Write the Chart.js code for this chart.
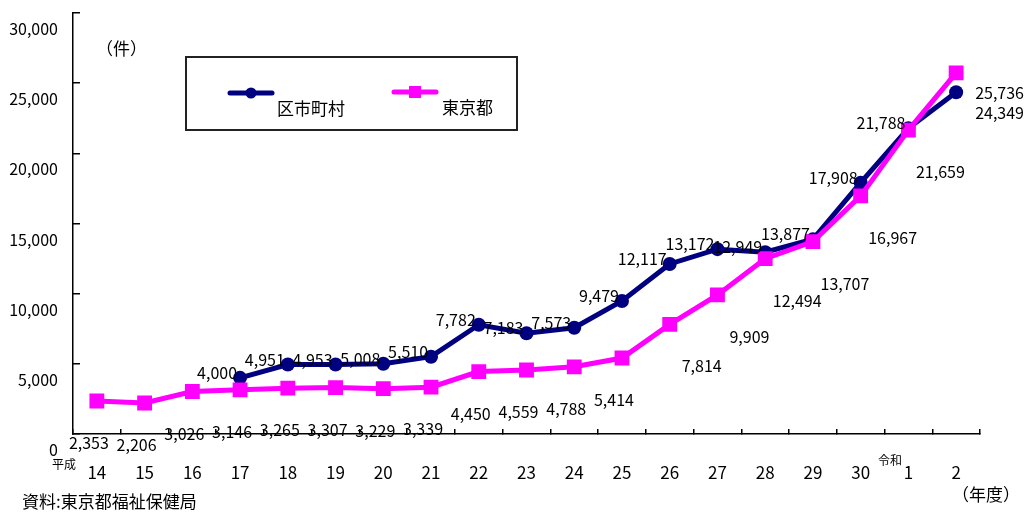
<!DOCTYPE html>
<html lang="ja">
<head>
<meta charset="utf-8">
<script src="https://cdn.jsdelivr.net/npm/chart.js@4.4.1/dist/chart.umd.min.js"></script>
<style>
  html, body { margin: 0; padding: 0; background: #fff; }
</style>
</head>
<body>
<canvas id="c" width="1027" height="513"></canvas>
<script>
// 年度（平成14〜30、令和1〜2）
const years = ['14', '15', '16', '17', '18', '19', '20', '21', '22', '23', '24', '25', '26', '27', '28', '29', '30', '1', '2'];
// 区市町村（平成17年度から）
const kushichoson = [null, null, null, 4000, 4951, 4953, 5008, 5510, 7782, 7183, 7573, 9479, 12117, 13172, 12949, 13877, 17908, 21788, 24349];
// 東京都
const tokyo = [2353, 2206, 3026, 3146, 3265, 3307, 3229, 3339, 4450, 4559, 4788, 5414, 7814, 9909, 12494, 13707, 16967, 21659, 25736];
const yTicks = [0, 5000, 10000, 15000, 20000, 25000, 30000];

const NAVY = '#000080';
const MAGENTA = '#ff00ff';
const FONT = '"Noto Sans CJK JP", "Noto Sans", sans-serif';
const fmt = v => v.toLocaleString('en-US');

// data labels: 区市町村 to the upper left, 東京都 well below the line
const valueLabels = {
  id: 'valueLabels',
  afterDatasetsDraw(chart) {
    const ctx = chart.ctx;
    const last = years.length - 1;
    ctx.save();
    ctx.font = '16px ' + FONT;
    ctx.fillStyle = '#000';
    ctx.textBaseline = 'middle';
    chart.getDatasetMeta(0).data.forEach((pt, i) => {
      const v = kushichoson[i];
      if (v == null) return;
      if (i === last) {
        ctx.textAlign = 'left';
        ctx.fillText(fmt(v), pt.x + 19, pt.y + 21);
      } else {
        ctx.textAlign = 'right';
        ctx.fillText(fmt(v), pt.x - 3, pt.y - 5);
      }
    });
    chart.getDatasetMeta(1).data.forEach((pt, i) => {
      const v = tokyo[i];
      if (i === last) {
        ctx.textAlign = 'left';
        ctx.fillText(fmt(v), pt.x + 19, pt.y + 20);
      } else {
        ctx.textAlign = 'center';
        ctx.fillText(fmt(v), pt.x + (i < 12 ? -8 : 32), pt.y + 42);
      }
    });
    ctx.restore();
  }
};

// boxed legend inside the plot + loose notes
const notes = {
  id: 'notes',
  afterDraw(chart) {
    const ctx = chart.ctx;
    ctx.save();
    ctx.strokeStyle = '#222';
    ctx.lineWidth = 2;
    ctx.strokeRect(186, 57, 331, 73);

    // legend entries
    ctx.lineCap = 'round';
    ctx.lineWidth = 5;
    ctx.strokeStyle = NAVY;
    ctx.beginPath(); ctx.moveTo(230, 93); ctx.lineTo(272, 93); ctx.stroke();
    ctx.fillStyle = NAVY;
    ctx.beginPath(); ctx.arc(251, 93, 5.5, 0, Math.PI * 2); ctx.fill();
    ctx.strokeStyle = MAGENTA;
    ctx.beginPath(); ctx.moveTo(394, 92); ctx.lineTo(436, 92); ctx.stroke();
    ctx.fillStyle = MAGENTA;
    ctx.fillRect(409, 86, 12, 12);

    ctx.fillStyle = '#000';
    ctx.textBaseline = 'middle';
    ctx.textAlign = 'left';
    ctx.font = '17px ' + FONT;
    ctx.fillText(chart.data.datasets[0].label, 277, 109);
    ctx.fillText(chart.data.datasets[1].label, 442, 108);

    ctx.fillText('（件）', 96, 49);
    ctx.fillText('資料:東京都福祉保健局', 22, 502);
    ctx.textAlign = 'right';
    ctx.fillText('（年度）', 1020, 495);

    ctx.textAlign = 'left';
    ctx.font = '12px ' + FONT;
    ctx.fillText('平成', 52, 464);
    ctx.fillText('令和', 878, 460);
    ctx.restore();
  }
};

new Chart(document.getElementById('c'), {
  type: 'line',
  data: {
    labels: years,
    datasets: [{
      label: '区市町村',
      data: kushichoson,
      borderColor: NAVY,
      backgroundColor: NAVY,
      borderWidth: 5,
      pointStyle: 'circle',
      pointRadius: 7,
      pointBorderWidth: 0,
      tension: 0,
      order: 1
    }, {
      label: '東京都',
      data: tokyo,
      borderColor: MAGENTA,
      backgroundColor: MAGENTA,
      borderWidth: 5,
      pointStyle: 'rect',
      pointRadius: 10.5,
      pointBorderWidth: 0,
      tension: 0,
      order: 0
    }]
  },
  options: {
    responsive: false,
    animation: false,
    layout: { padding: { top: 13, right: 47, left: 0, bottom: 0 } },
    plugins: {
      legend: { display: false },
      tooltip: { enabled: false }
    },
    scales: {
      x: {
        offset: true,
        grid: { offset: true, drawOnChartArea: false, tickLength: -5, color: '#000', lineWidth: 1.5 },
        border: { color: '#000', width: 1.5 },
        ticks: { color: '#000', font: { family: FONT, size: 17 }, padding: 33, maxRotation: 0, autoSkip: false },
        afterFit: s => { s.height = 79; s.paddingLeft = 0; s.paddingRight = 0; }
      },
      y: {
        min: 0,
        max: 30000,
        afterBuildTicks: s => { s.ticks = yTicks.map(v => ({ value: v })); },
        grid: { drawOnChartArea: false, tickLength: -7, color: '#000', lineWidth: 1.5 },
        border: { color: '#000', width: 1.5 },
        ticks: { color: '#000', font: { family: FONT, size: 16 }, padding: 22, labelOffset: 16, callback: v => fmt(v) },
        afterFit: s => { s.width = 73; s.paddingTop = 0; s.paddingBottom = 0; }
      }
    }
  },
  plugins: [valueLabels, notes]
});
</script>
</body>
</html>
